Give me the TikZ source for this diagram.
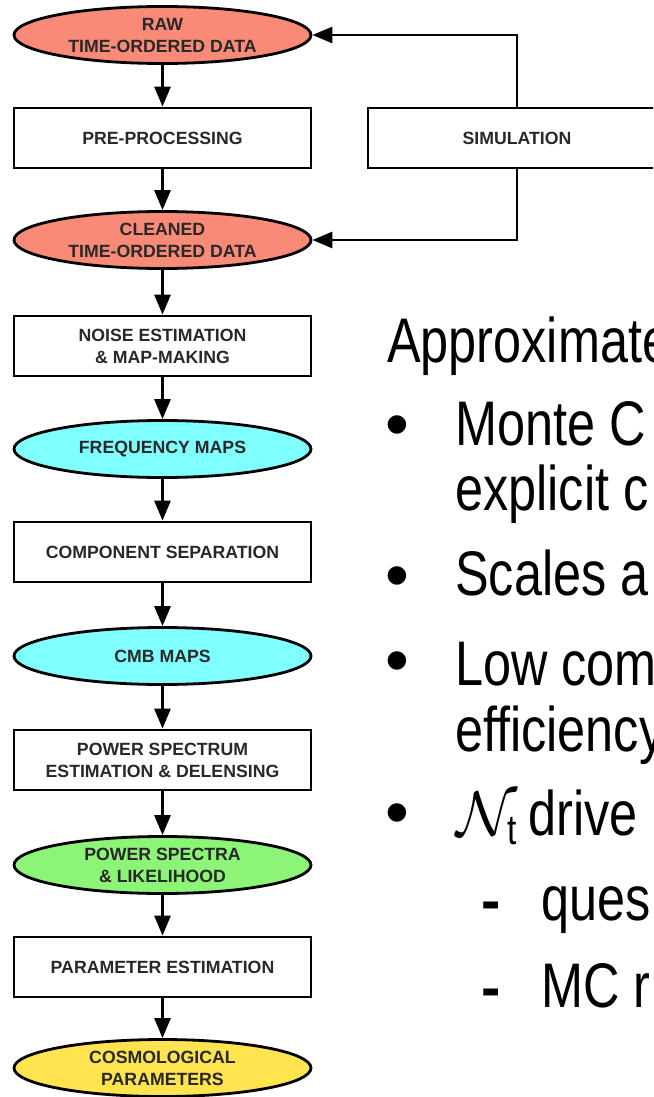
\RequirePackage{fix-cm}
\documentclass[tikz,border=0pt]{standalone}
\usepackage{fontspec}
\setmainfont{Liberation Sans}
\newfontfamily\narrowfont[FakeStretch=0.8]{Liberation Sans}
\usetikzlibrary{shapes.geometric,arrows.meta}
\definecolor{todred}{RGB}{250,138,120}
\definecolor{mapcyan}{RGB}{128,255,255}
\definecolor{specgreen}{RGB}{140,245,120}
\definecolor{paryellow}{RGB}{255,228,80}
\definecolor{labelgray}{RGB}{40,40,40}
\begin{document}
\begin{tikzpicture}[x=1pt,y=-1pt,
  stage/.style={draw,line width=2.8pt,minimum width=297pt,inner sep=0pt,align=center,
    text=labelgray,font=\fontsize{17.7}{22}\selectfont\bfseries},
  datanode/.style={stage,ellipse,minimum height=57pt},
  procbox/.style={stage,rectangle,minimum height=60pt},
  flow/.style={line width=2.8pt,-{Triangle[width=16pt,length=20pt]}},
  slide/.style={anchor=base west,inner sep=0pt,font=\narrowfont\fontsize{63}{66}\selectfont},
  bulletmark/.style={anchor=base,inner sep=0pt,font=\fontsize{68}{68}\selectfont},
  dashmark/.style={anchor=base west,inner sep=0pt,font=\fontsize{58}{58}\selectfont\bfseries}]
  \useasboundingbox (0,0) rectangle (653,1097);
  \clip (0,0) rectangle (653,1097);
  % pipeline
  \node[datanode,fill=todred] (raw) at (162.5,35) {RAW\\TIME-ORDERED DATA};
  \node[procbox] (prep) at (162.5,138) {PRE-PROCESSING};
  \node[datanode,fill=todred] (clean) at (162.5,240) {CLEANED\\TIME-ORDERED DATA};
  \node[procbox] (mapmk) at (162.5,346) {NOISE ESTIMATION\\\& MAP-MAKING};
  \node[datanode,fill=mapcyan] (freq) at (162.5,449) {FREQUENCY MAPS};
  \node[procbox] (compsep) at (162.5,552) {COMPONENT SEPARATION};
  \node[datanode,fill=mapcyan] (cmb) at (162.5,656) {CMB MAPS};
  \node[procbox] (psest) at (162.5,760) {POWER SPECTRUM\\ESTIMATION \& DELENSING};
  \node[datanode,fill=specgreen] (spec) at (162.5,865) {POWER SPECTRA\\\& LIKELIHOOD};
  \node[procbox] (parest) at (162.5,967) {PARAMETER ESTIMATION};
  \node[datanode,fill=paryellow] (cosmo) at (162.5,1068) {COSMOLOGICAL\\PARAMETERS};
  \draw[flow] (raw) -- (prep);
  \draw[flow] (prep) -- (clean);
  \draw[flow] (clean) -- (mapmk);
  \draw[flow] (mapmk) -- (freq);
  \draw[flow] (freq) -- (compsep);
  \draw[flow] (compsep) -- (cmb);
  \draw[flow] (cmb) -- (psest);
  \draw[flow] (psest) -- (spec);
  \draw[flow] (spec) -- (parest);
  \draw[flow] (parest) -- (cosmo);
  % simulation loop
  \node[procbox,minimum width=298pt] (sim) at (517,138) {SIMULATION};
  \draw[flow] (sim.north) |- (raw.east);
  \draw[flow] (sim.south) |- (clean.east);
  % slide text (cut at the right edge)
  \node[slide] (head) at (387,362) {Approximate};
  \node[bulletmark] (b1) at (397,447) {•};
  \node[slide] (t1a) at (455,445) {Monte C};
  \node[slide] (t1b) at (455,510) {explicit c};
  \node[bulletmark] (b2) at (397,598) {•};
  \node[slide] (t2) at (455,595) {Scales a};
  \node[bulletmark] (b3) at (397,683) {•};
  \node[slide] (t3a) at (455,685) {Low com};
  \node[slide] (t3b) at (455,751) {efficiency};
  \node[bulletmark] (b4) at (397,835) {•};
  \node[slide] (t4) at (456,835) {$\mathcal{N}_{\mbox{\narrowfont\fontsize{42}{42}\selectfont t}}$\,drive};
  \node[dashmark] (d1) at (481,920) {-};
  \node[slide] (s1) at (541,920) {ques};
  \node[dashmark] (d2) at (481,1007) {-};
  \node[slide] (s2) at (541,1007) {MC r};
\end{tikzpicture}
\end{document}
